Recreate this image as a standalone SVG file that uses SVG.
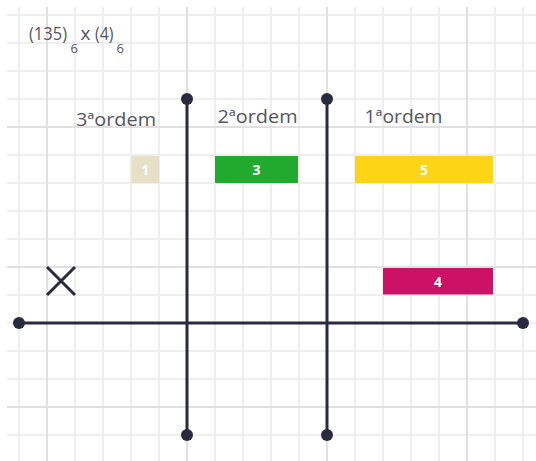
<svg xmlns="http://www.w3.org/2000/svg" width="536" height="461" viewBox="0 0 536 461">
<style>
.g{stroke:#eeeeee;stroke-width:2;fill:none}
.gm{stroke:#e0e0e0;stroke-width:2;fill:none}
.ax{stroke:#2a2a3f;stroke-width:3;fill:none}
.dot{fill:#2a2a3f}
.lbl{font-family:"Open Sans","Liberation Sans",sans-serif;font-size:18px;fill:#555560}
.t{font-family:"Open Sans","Liberation Sans",sans-serif;font-size:19px;fill:#555560}
.s{font-family:"Open Sans","Liberation Sans",sans-serif;font-size:13px;fill:#555560}
.n{font-family:"Open Sans","Liberation Sans",sans-serif;font-size:14px;font-weight:bold;fill:#ffffff;text-anchor:middle}
</style>
<rect width="536" height="461" fill="#ffffff"/>
<g id="grid">
<path class="g" d="M19 7V461M75 7V461M103 7V461M131 7V461M159 7V461M215 7V461M243 7V461M271 7V461M299 7V461M355 7V461M383 7V461M411 7V461M439 7V461M495 7V461M523 7V461"/>
<path class="g" d="M7 15H536M7 43H536M7 71H536M7 99H536M7 155H536M7 183H536M7 211H536M7 239H536M7 295H536M7 323H536M7 351H536M7 379H536M7 435H536"/>
<path class="gm" d="M47 7V461M187 7V461M327 7V461M467 7V461M7 127H536M7 267H536M7 407H536"/>
</g>
<g id="title">
<text class="t" x="29" y="40" textLength="38" lengthAdjust="spacingAndGlyphs">(135)</text>
<text class="s" x="70.5" y="52.5">6</text>
<text class="t" x="80.5" y="40">x</text>
<text class="t" x="95" y="40" textLength="18.5" lengthAdjust="spacingAndGlyphs">(4)</text>
<text class="s" x="116.5" y="52.5">6</text>
</g>
<g id="connectors">
<line class="ax" x1="19" y1="323" x2="523" y2="323"/>
<line class="ax" x1="187" y1="99" x2="187" y2="435"/>
<line class="ax" x1="327" y1="99" x2="327" y2="435"/>
<circle class="dot" cx="19" cy="323" r="6"/>
<circle class="dot" cx="523" cy="323" r="6"/>
<circle class="dot" cx="187" cy="99" r="6"/>
<circle class="dot" cx="187" cy="435" r="6"/>
<circle class="dot" cx="327" cy="99" r="6"/>
<circle class="dot" cx="327" cy="435" r="6"/>
</g>
<g id="labels">
<text class="lbl" x="76" y="125.7" textLength="80" lengthAdjust="spacingAndGlyphs">3ªordem</text>
<text class="lbl" x="217.5" y="122.7" textLength="80" lengthAdjust="spacingAndGlyphs">2ªordem</text>
<text class="lbl" x="364.5" y="123.3" textLength="78" lengthAdjust="spacingAndGlyphs">1ªordem</text>
</g>
<g id="node1"><rect x="131.5" y="156" width="27.5" height="27" fill="#e6e1c6"/><text class="n" x="145.3" y="174.5">1</text></g>
<g id="node3"><rect x="215" y="156" width="83" height="27" fill="#22aa2e"/><text class="n" x="256.5" y="174.5">3</text></g>
<g id="node5"><rect x="355" y="156" width="138" height="27" fill="#fdd416"/><text class="n" x="424" y="174.5">5</text></g>
<g id="node4"><rect x="383" y="268" width="110" height="26.5" fill="#cc1166"/><text class="n" x="438" y="286.5">4</text></g>
<g id="xmark"><path class="ax" d="M47 267L75 295M75 267L47 295"/></g>
</svg>
